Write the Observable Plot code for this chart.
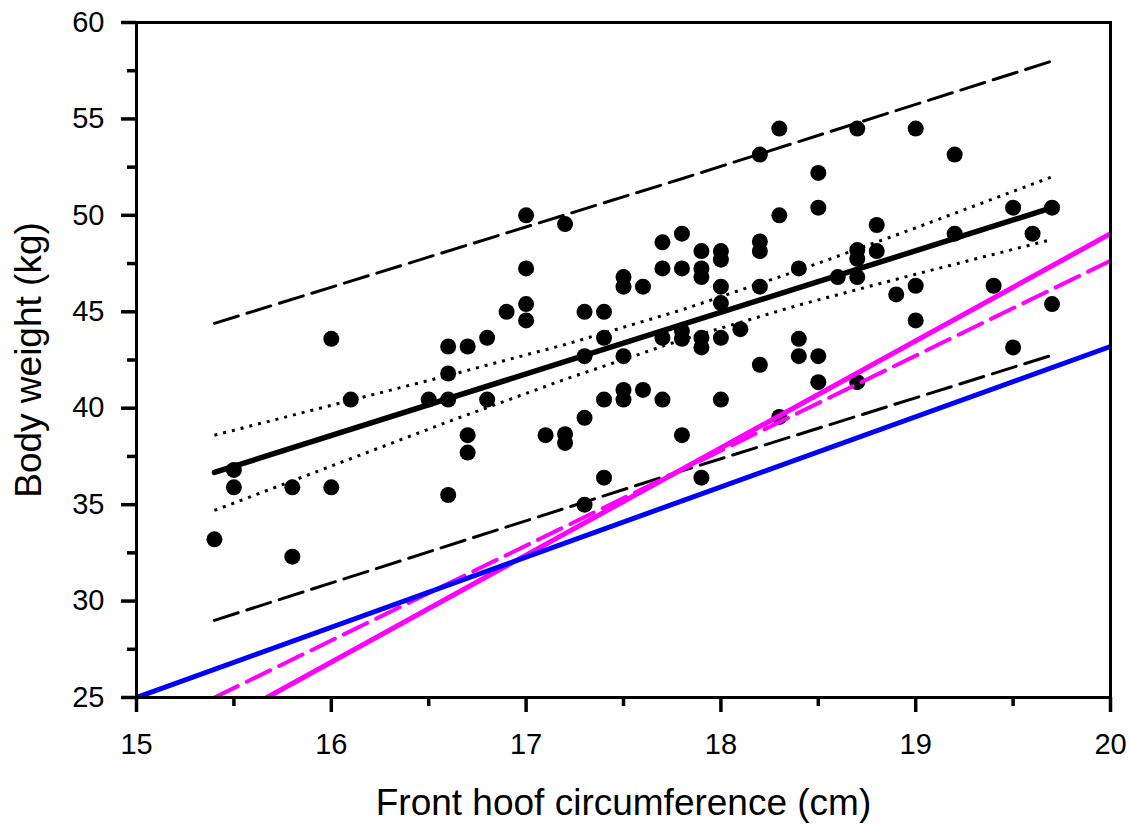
<!DOCTYPE html>
<html>
<head>
<meta charset="utf-8">
<script src="https://cdn.jsdelivr.net/npm/d3@7"></script>
<script src="https://cdn.jsdelivr.net/npm/@observablehq/plot@0.6"></script>
<style>
  html, body { margin: 0; padding: 0; background: #fff; }
  #chart svg { display: block; }
</style>
</head>
<body>
<div id="chart"></div>
<script>
// ---- Data ----
const hoofX = [
  15.4, 15.5, 15.5, 15.8, 15.8, 16.0, 16.0, 16.1, 16.5,
  16.6, 16.6, 16.6, 16.6, 16.7, 16.7, 16.7, 16.8, 16.8, 16.9,
  17.0, 17.0, 17.0, 17.0, 17.1, 17.2, 17.2, 17.2,
  17.3, 17.3, 17.3, 17.3, 17.4, 17.4, 17.4, 17.4,
  17.5, 17.5, 17.5, 17.5, 17.5, 17.6, 17.6,
  17.7, 17.7, 17.7, 17.7, 17.8, 17.8, 17.8, 17.8, 17.8,
  17.9, 17.9, 17.9, 17.9, 17.9, 17.9,
  18.0, 18.0, 18.0, 18.0, 18.0, 18.0, 18.1,
  18.2, 18.2, 18.2, 18.2, 18.2, 18.3, 18.3, 18.3,
  18.4, 18.4, 18.4, 18.5, 18.5, 18.5, 18.5, 18.6,
  18.7, 18.7, 18.7, 18.7, 18.7, 18.8, 18.8, 18.9,
  19.0, 19.0, 19.0, 19.2, 19.2, 19.4, 19.5, 19.5, 19.6, 19.7, 19.7
];
const weightY = [
  33.2, 36.8, 35.9, 35.9, 32.3, 43.6, 35.9, 40.45, 40.45,
  43.2, 41.8, 40.45, 35.5, 43.2, 38.6, 37.7, 43.65, 40.45, 45.0,
  50.0, 47.25, 45.4, 44.55, 38.6, 49.55, 38.65, 38.2,
  45.0, 42.7, 39.5, 35.0, 45.0, 43.65, 40.45, 36.4,
  46.8, 46.3, 42.7, 40.95, 40.45, 46.3, 40.95,
  48.6, 47.25, 43.65, 40.45, 49.05, 47.25, 44.0, 43.6, 38.6,
  48.15, 47.25, 46.8, 43.65, 43.15, 36.4,
  48.15, 47.7, 46.3, 45.45, 43.65, 40.45, 44.1,
  53.15, 48.65, 48.15, 46.3, 42.25, 54.5, 50.0, 39.55,
  47.25, 43.6, 42.7, 52.2, 50.4, 42.7, 41.35, 46.8,
  54.5, 48.2, 47.75, 46.8, 41.35, 49.5, 48.15, 45.9,
  54.5, 46.35, 44.55, 53.15, 49.05, 46.35, 50.4, 43.15, 49.05, 50.4, 45.4
];

// regression fit
const fitX = [15.4, 19.7];
const fitY = [36.67, 50.4];
// 95% confidence band (dotted)
const ciX = [15.4, 16.0, 16.6, 17.2, 17.8, 18.4, 19.0, 19.7];
const ciUpper = [38.6, 40.15, 41.7, 43.3, 45.1, 47.15, 49.35, 52.0];
const ciLower = [34.7, 37.0, 39.3, 41.5, 43.55, 45.35, 46.95, 48.75];
// 95% prediction band (dashed)
const piX = [15.4, 17.8, 19.7];
const piUpper = [44.4, 51.9, 58.0];
const piLower = [29.0, 36.75, 42.75];
// blue reference line
const blueX = [15, 20];
const blueY = [25, 43.2];
// magenta solid
const magX = [15.67, 20];
const magY = [25, 49.05];
// magenta dashed
const magDashX = [15.4, 20];
const magDashY = [25, 47.65];

const xTicks = [15, 16, 17, 18, 19, 20];
const xMinor = [15.5, 16.5, 17.5, 18.5, 19.5];
const yTicks = [25, 30, 35, 40, 45, 50, 55, 60];
const yMinor = [27.5, 32.5, 37.5, 42.5, 47.5, 52.5, 57.5];
const xTitle = "Front hoof circumference (cm)";
const yTitle = "Body weight (kg)";

const idx = (a) => a.map((_, i) => i);

const chart = Plot.plot({
  width: 1130,
  height: 824,
  marginLeft: 136,
  marginRight: 20,
  marginTop: 22,
  marginBottom: 127,
  style: { fontFamily: "'Liberation Sans', Arial, sans-serif", color: "#000", background: "#fff" },
  x: { domain: [15, 20], label: null },
  y: { domain: [25, 60], label: null },
  marks: [
    Plot.dot(idx(hoofX), { x: hoofX, y: weightY, r: 8, fill: "#000", stroke: "none" }),
    Plot.line(idx(fitX), { x: fitX, y: fitY, stroke: "#000", strokeWidth: 5.5, clip: true }),
    Plot.line(idx(ciX), { x: ciX, y: ciUpper, stroke: "#000", strokeWidth: 3, strokeDasharray: "3,6", strokeLinecap: "butt", clip: true }),
    Plot.line(idx(ciX), { x: ciX, y: ciLower, stroke: "#000", strokeWidth: 3, strokeDasharray: "3,6", strokeLinecap: "butt", clip: true }),
    Plot.line(idx(piX), { x: piX, y: piUpper, stroke: "#000", strokeWidth: 3, strokeDasharray: "25,9", clip: true }),
    Plot.line(idx(piX), { x: piX, y: piLower, stroke: "#000", strokeWidth: 3, strokeDasharray: "25,9", clip: true }),
    Plot.line(idx(magDashX), { x: magDashX, y: magDashY, stroke: "#ff00ff", strokeWidth: 4, strokeDasharray: "26,10", clip: true }),
    Plot.line(idx(magX), { x: magX, y: magY, stroke: "#ff00ff", strokeWidth: 5, clip: true }),
    Plot.line(idx(blueX), { x: blueX, y: blueY, stroke: "#0000ff", strokeWidth: 5, clip: true }),
    Plot.frame({ stroke: "#000", strokeWidth: 3 }),
    Plot.axisX(xTicks, { tickSize: 15, tickPadding: 21, strokeWidth: 3.5, fontSize: 29, label: null, tickFormat: (d) => String(d) }),
    Plot.axisX(xMinor, { tickSize: 9, strokeWidth: 3.5, label: null, tickFormat: () => "" }),
    Plot.axisY(yTicks, { tickSize: 15, tickPadding: 17, strokeWidth: 3.5, fontSize: 29, label: null, tickFormat: (d) => String(d) }),
    Plot.axisY(yMinor, { tickSize: 9, strokeWidth: 3.5, label: null, tickFormat: () => "" }),
    Plot.text([xTitle], { text: (d) => d, frameAnchor: "bottom", lineAnchor: "middle", dy: 106, fontSize: 37, fill: "#000" }),
    Plot.text([yTitle], { text: (d) => d, frameAnchor: "left", textAnchor: "middle", lineAnchor: "middle", dx: -107, rotate: -90, fontSize: 37, fill: "#000" })
  ]
});
document.getElementById("chart").appendChild(chart);
</script>
</body>
</html>
